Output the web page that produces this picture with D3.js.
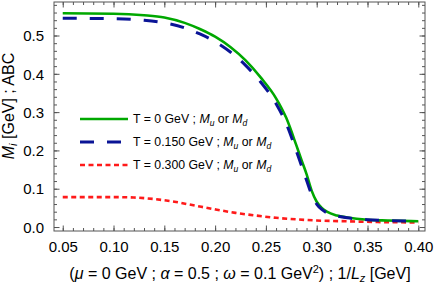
<!DOCTYPE html>
<html>
<head>
<meta charset="utf-8">
<script src="https://cdn.jsdelivr.net/npm/d3@7"></script>
<style>
  body { margin: 0; background: #fff; }
  svg { display: block; font-family: "Liberation Sans", Arial, sans-serif; }
</style>
</head>
<body>
<div id="chart"></div>
<script>
// chart size and frame margins
var svgWidth = 436;
var svgHeight = 284;
var margin = { top: 2, right: 11, bottom: 53, left: 54 };
var chartWidth = svgWidth - margin.left - margin.right;
var chartHeight = svgHeight - margin.top - margin.bottom;

// data
var lzT0 = [0.05, 0.10, 0.13, 0.15, 0.17, 0.185, 0.20, 0.215, 0.23, 0.245, 0.26, 0.27, 0.28, 0.285, 0.29, 0.295, 0.30, 0.305, 0.31, 0.32, 0.33, 0.35, 0.37, 0.40];
var massT0 = [0.558, 0.557, 0.553, 0.547, 0.533, 0.517, 0.497, 0.470, 0.435, 0.390, 0.336, 0.285, 0.213, 0.175, 0.138, 0.095, 0.066, 0.050, 0.040, 0.030, 0.025, 0.019, 0.017, 0.015];

var lzT150 = [0.05, 0.10, 0.13, 0.15, 0.17, 0.185, 0.20, 0.215, 0.23, 0.245, 0.26, 0.27, 0.28, 0.285, 0.29, 0.295, 0.30, 0.305, 0.31, 0.32, 0.33, 0.35, 0.37, 0.40];
var massT150 = [0.545, 0.544, 0.540, 0.533, 0.520, 0.504, 0.484, 0.457, 0.422, 0.378, 0.322, 0.270, 0.198, 0.160, 0.122, 0.085, 0.060, 0.046, 0.037, 0.029, 0.024, 0.019, 0.017, 0.015];

var lzT300 = [0.05, 0.10, 0.12, 0.14, 0.16, 0.18, 0.20, 0.22, 0.24, 0.26, 0.28, 0.30, 0.33, 0.36, 0.40];
var massT300 = [0.078, 0.078, 0.077, 0.073, 0.066, 0.056, 0.046, 0.037, 0.030, 0.024, 0.020, 0.017, 0.015, 0.013, 0.012];

var xTicks = [0.05, 0.10, 0.15, 0.20, 0.25, 0.30, 0.35, 0.40];
var yTicks = [0.0, 0.1, 0.2, 0.3, 0.4, 0.5];

var seriesList = [
  { lz: lzT0, mass: massT0, color: "#00a800", width: 2.6, dash: null, label: "T = 0 GeV ; " },
  { lz: lzT150, mass: massT150, color: "#0a1496", width: 3, dash: "14,13", label: "T = 0.150 GeV ; " },
  { lz: lzT300, mass: massT300, color: "#ff1a1a", width: 2.6, dash: "5,3.5", label: "T = 0.300 GeV ; " }
];

var svg = d3.select("#chart")
  .append("svg")
  .attr("width", svgWidth)
  .attr("height", svgHeight);

var chartGroup = svg.append("g")
  .attr("transform", `translate(${margin.left}, ${margin.top})`);

var xScale = d3.scaleLinear().domain([0.0414, 0.4066]).range([0, chartWidth]);
var yScale = d3.scaleLinear().domain([-0.0104, 0.5875]).range([chartHeight, 0]);

// minor ticks
var xMinor = d3.range(5, 41).map(d => d / 100);
var yMinor = d3.range(0, 30).map(d => d / 50);

var frameColor = "#555";

function drawAxis(axisFn, scale, values, size, cls, transform, labels) {
  var ax = axisFn(scale).tickValues(values).tickSizeInner(-size).tickSizeOuter(0);
  if (labels) ax.tickFormat(labels); else ax.tickFormat("");
  var g = chartGroup.append("g").attr("class", cls).attr("transform", transform).call(ax);
  g.select(".domain").remove();
  g.selectAll("line").attr("stroke", frameColor).attr("stroke-width", 1);
  return g;
}

// bottom / top
drawAxis(d3.axisBottom, xScale, xMinor, 3, "xminor", `translate(0,${chartHeight})`);
drawAxis(d3.axisTop, xScale, xMinor, 3, "xminor", "translate(0,0)");
var xAxis = drawAxis(d3.axisBottom, xScale, xTicks, 5.5, "x-axis", `translate(0,${chartHeight})`, d3.format(".2f"));
drawAxis(d3.axisTop, xScale, xTicks, 5.5, "x-top", "translate(0,0)");
// left / right
drawAxis(d3.axisLeft, yScale, yMinor, 3, "yminor", "translate(0,0)");
drawAxis(d3.axisRight, yScale, yMinor, 3, "yminor", `translate(${chartWidth},0)`);
var yAxis = drawAxis(d3.axisLeft, yScale, yTicks, 5.5, "y-axis", "translate(0,0)", d3.format(".1f"));
drawAxis(d3.axisRight, yScale, yTicks, 5.5, "y-right", `translate(${chartWidth},0)`);

xAxis.selectAll("text").attr("font-size", "15px").attr("fill", "#000").attr("y", 10).attr("dy", "0.71em");
yAxis.selectAll("text").attr("font-size", "15px").attr("fill", "#000").attr("x", -10).attr("dy", "0.35em");

// clip the curves to the frame
svg.append("defs").append("clipPath").attr("id", "clip")
  .append("rect").attr("width", chartWidth).attr("height", chartHeight);

var line = d3.line()
  .x(d => xScale(d[0]))
  .y(d => yScale(d[1]))
  .curve(d3.curveMonotoneX);

var curves = chartGroup.append("g").attr("clip-path", "url(#clip)");

// red first, then green, blue dashes on top
[2, 0, 1].forEach(i => {
  var s = seriesList[i];
  var pts = s.lz.map((v, j) => [v, s.mass[j]]);
  curves.append("path")
    .datum(pts)
    .attr("d", line)
    .attr("fill", "none")
    .attr("stroke", s.color)
    .attr("stroke-width", s.width)
    .attr("stroke-dasharray", s.dash);
});

// frame
chartGroup.append("rect")
  .attr("width", chartWidth)
  .attr("height", chartHeight)
  .attr("fill", "none")
  .attr("stroke", frameColor)
  .attr("stroke-width", 1);

// legend
var legend = svg.append("g").attr("transform", "translate(80,119)");
seriesList.forEach((s, i) => {
  var row = legend.append("g").attr("transform", `translate(0, ${i * 23})`);
  row.append("line")
    .attr("x1", 0).attr("x2", 48)
    .attr("stroke", s.color)
    .attr("stroke-width", s.width)
    .attr("stroke-dasharray", s.dash);
  var t = row.append("text")
    .attr("x", 53)
    .attr("dy", "0.35em")
    .attr("font-size", "12.3px")
    .attr("fill", "#000");
  t.append("tspan").text(s.label);
  t.append("tspan").attr("font-style", "italic").text("M");
  t.append("tspan").attr("font-style", "italic").attr("font-size", "8.5px").attr("dy", "3").text("u");
  t.append("tspan").attr("dy", "-3").text(" or ");
  t.append("tspan").attr("font-style", "italic").text("M");
  t.append("tspan").attr("font-style", "italic").attr("font-size", "8.5px").attr("dy", "3").text("d");
});

// x axis title
var xt = svg.append("text")
  .attr("x", 240)
  .attr("y", 279)
  .attr("text-anchor", "middle")
  .attr("font-size", "16px")
  .attr("fill", "#000");
xt.append("tspan").text("(");
xt.append("tspan").attr("font-style", "italic").text("μ");
xt.append("tspan").text(" = 0 GeV ; ");
xt.append("tspan").attr("font-style", "italic").text("α");
xt.append("tspan").text(" = 0.5 ; ");
xt.append("tspan").attr("font-style", "italic").text("ω");
xt.append("tspan").text(" = 0.1 GeV");
xt.append("tspan").attr("font-size", "11px").attr("dy", "-6").text("2");
xt.append("tspan").attr("dy", "6").text(") ; 1/");
xt.append("tspan").attr("font-style", "italic").text("L");
xt.append("tspan").attr("font-style", "italic").attr("font-size", "11px").attr("dy", "3").text("z");
xt.append("tspan").attr("dy", "-3").text(" [GeV]");

// y axis title
var yt = svg.append("text")
  .attr("transform", "translate(14,106) rotate(-90)")
  .attr("text-anchor", "middle")
  .attr("font-size", "16px")
  .attr("fill", "#000");
yt.append("tspan").attr("font-style", "italic").text("M");
yt.append("tspan").attr("font-style", "italic").attr("font-size", "11px").attr("dy", "3").text("i");
yt.append("tspan").attr("dy", "-3").text(" [GeV] ; ABC");
</script>
</body>
</html>
